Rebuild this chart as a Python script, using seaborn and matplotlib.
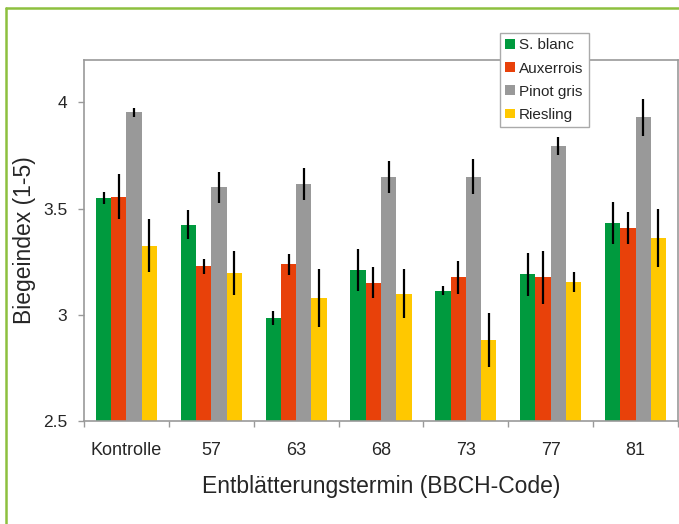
import numpy as np
import pandas as pd
import matplotlib
matplotlib.use("Agg")
import matplotlib.pyplot as plt
import seaborn as sns
from matplotlib.lines import Line2D

# Werte
termine = ["Kontrolle", "57", "63", "68", "73", "77", "81"]
sorten = ["S. blanc", "Auxerrois", "Pinot gris", "Riesling"]

s_blanc = [3.55, 3.425, 2.985, 3.21, 3.113, 3.19, 3.432]
s_blanc_err = [0.03, 0.067, 0.032, 0.10, 0.022, 0.10, 0.10]
auxerrois = [3.557, 3.228, 3.237, 3.151, 3.176, 3.176, 3.408]
auxerrois_err = [0.105, 0.035, 0.05, 0.072, 0.077, 0.125, 0.074]
pinot_gris = [3.953, 3.60, 3.617, 3.649, 3.651, 3.796, 3.931]
pinot_gris_err = [0.02, 0.074, 0.076, 0.077, 0.082, 0.043, 0.087]
riesling = [3.325, 3.197, 3.080, 3.099, 2.882, 3.154, 3.362]
riesling_err = [0.125, 0.105, 0.135, 0.115, 0.127, 0.047, 0.137]

farben = ["#009a3e", "#e8410a", "#999999", "#ffc800"]

werte = [s_blanc, auxerrois, pinot_gris, riesling]
fehler = [s_blanc_err, auxerrois_err, pinot_gris_err, riesling_err]

df = pd.DataFrame({
    "termin": termine * len(sorten),
    "sorte": [s for s in sorten for _ in termine],
    "wert": [v for w in werte for v in w],
})

sns.set_style("white")
plt.rcParams["font.family"] = ["Liberation Sans", "DejaVu Sans"]

fig = plt.figure(figsize=(6.79, 5.24), dpi=100)
ax = fig.add_axes([84 / 679, 1 - 421 / 524, 594 / 679, 361 / 524])

sns.barplot(data=df, x="termin", y="wert", hue="sorte", palette=farben,
            width=0.72, errorbar=None, saturation=1, linewidth=0, ax=ax)

# Fehlerbalken
for cont, err in zip(ax.containers, fehler):
    xs = [b.get_x() + b.get_width() / 2 for b in cont]
    ys = [b.get_height() for b in cont]
    ax.errorbar(xs, ys, yerr=err, fmt="none", ecolor="black", elinewidth=1.6, capsize=0)

ax.set_ylim(2.5, 4.2)
ax.set_xlim(-0.5, 6.5)
ax.set_yticks([2.5, 3, 3.5, 4])
ax.set_yticklabels(["2.5", "3", "3.5", "4"])
ax.set_xticks(np.arange(-0.5, 7, 1), minor=True)

ax.tick_params(axis="x", which="major", length=0, pad=15, labelsize=13)
ax.tick_params(axis="x", which="minor", length=4, width=1, color="#999999", direction="out", bottom=True)
ax.tick_params(axis="y", length=4, width=1, color="#999999", pad=8, labelsize=12.5, left=True)

for sp in ax.spines.values():
    sp.set_color("#999999")
    sp.set_linewidth(1.2)

ax.set_xlabel("Entblätterungstermin (BBCH-Code)", fontsize=16.5, labelpad=12)
ax.set_ylabel("Biegeindex (1-5)", fontsize=16.5, labelpad=5)

leg = ax.legend(loc="upper left", bbox_to_anchor=(500 / 679, 1 - 33 / 524),
                bbox_transform=fig.transFigure, frameon=True, fancybox=False,
                edgecolor="#aaaaaa", framealpha=1, fontsize=11, title=None,
                handlelength=0.6, handleheight=0.6, handletextpad=0.3,
                borderpad=0.35, labelspacing=0.6, borderaxespad=0)
leg.get_frame().set_linewidth(1)

# gruener Rahmen
rand = "#8dc03f"
fig.add_artist(Line2D([6 / 679, 6 / 679], [0, 1 - 8 / 524], transform=fig.transFigure, color=rand, lw=1.8))
fig.add_artist(Line2D([6 / 679, 1], [1 - 8 / 524, 1 - 8 / 524], transform=fig.transFigure, color=rand, lw=1.8))

fig.savefig("out.png", dpi=100)
